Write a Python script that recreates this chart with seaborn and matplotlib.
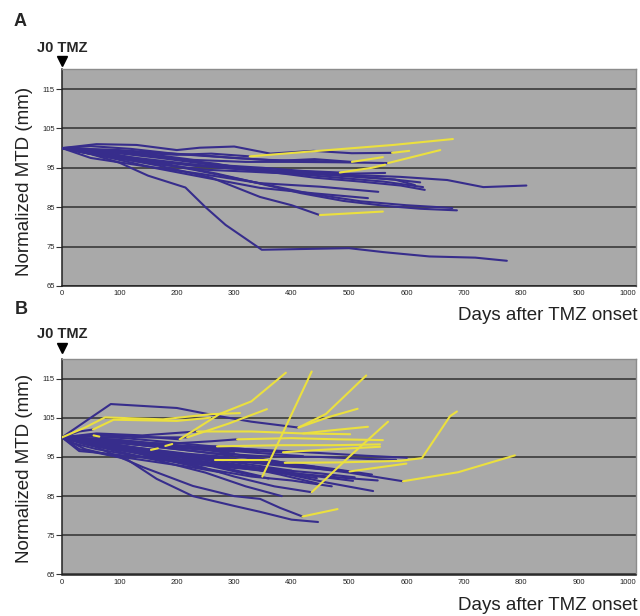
import matplotlib
matplotlib.use("Agg")
import matplotlib.pyplot as plt
import pandas as pd
import seaborn as sns

# ---------------- data (days after TMZ onset, normalized MTD) ----------------
X_TICKS = list(range(0, 1001, 100))
Y_TICKS = [65, 75, 85, 95, 105, 115]

# Panel A : under TMZ (purple)
A_TMZ = [
    ([0, 50, 100, 150, 215, 250, 285, 348, 500, 560, 640, 720, 775], [100, 98.5, 96.3, 93, 90, 85, 80.5, 74.2, 74.6, 73.6, 72.5, 72.2, 71.4]),
    ([0, 60, 130, 200, 240, 300, 363, 438, 505, 575], [100, 101, 100.8, 99.5, 100.1, 100.4, 98.6, 99.3, 98.7, 98.8]),
    ([0, 40, 110, 200, 260, 327], [100, 99.5, 99, 98.3, 98.6, 97.9]),
    ([0, 50, 120, 200, 300, 380, 440, 505], [100, 100.5, 99.8, 98.5, 97.5, 96.8, 97.2, 96.5]),
    ([0, 70, 150, 230, 320, 400, 480, 568], [100, 99.5, 98.5, 97, 96.5, 96.5, 96.4, 96.2]),
    ([0, 80, 170, 260, 350, 420, 484], [100, 99, 97.5, 95.8, 95, 94.2, 93.8]),
    ([0, 60, 140, 230, 330, 430, 500, 563], [100, 99, 97, 95.5, 94.5, 94, 93.5, 93.7]),
    ([0, 50, 120, 210, 300, 400, 500, 580, 615], [100, 98.5, 97.2, 96, 95, 94, 93, 92, 90.6]),
    ([0, 90, 180, 270, 345, 420, 500, 589, 671, 734, 809], [100, 99, 97.5, 96, 94, 93.5, 93.2, 92.7, 91.9, 90.1, 90.5]),
    ([0, 70, 160, 250, 330, 400, 480, 560, 629], [100, 98, 96, 94.5, 94, 93.5, 92.5, 91.5, 90.1]),
    ([0, 100, 190, 280, 360, 440, 520, 590, 632], [100, 98, 96.5, 95, 94, 92.5, 91.5, 90.5, 89.4]),
    ([0, 80, 170, 260, 350, 430, 500, 580, 624], [100, 99.3, 97.8, 96, 94.5, 93.5, 92.8, 92, 91.3]),
    ([0, 50, 140, 240, 345, 450, 551], [100, 97.5, 95.5, 93.5, 91.1, 90.2, 88.9]),
    ([0, 70, 160, 250, 345, 440, 533], [100, 98, 95, 92.5, 89.9, 88.5, 87.3]),
    ([0, 90, 180, 270, 345, 415, 490, 566, 625, 688], [100, 98.5, 96, 93.5, 91, 88.6, 86.6, 85.3, 84.6, 84.2]),
    ([0, 80, 170, 260, 345, 400, 449], [100, 98, 95.5, 92.5, 87.6, 85.5, 83]),
    ([0, 60, 130, 230, 330, 430, 520, 600, 680], [100, 99, 97, 94.5, 91.5, 88.5, 86.5, 85.5, 84.8]),
    ([0, 40, 100, 170, 240, 300, 360, 410, 480], [100, 99.8, 99.5, 98.8, 98.2, 97.5, 97, 96.8, 96.6]),
]
# Panel A : after progression (yellow)
A_POST = [
    ([575, 605], [98.8, 99.3]),
    ([327, 438, 577, 681], [97.9, 99.2, 100.8, 102.3]),
    ([505, 559], [96.5, 97.7]),
    ([568, 659], [96.2, 99.5]),
    ([484, 540, 563], [93.8, 95, 95.8]),
    ([449, 559], [83, 83.9]),
]

# Panel B : under TMZ (purple)
B_TMZ = [
    ([0, 85, 200, 270, 330, 412], [100, 108.5, 107.5, 105.5, 104, 102.5]),
    ([0, 60, 150, 250, 350, 450, 530, 601], [100, 99.5, 98.5, 97.5, 96.8, 96, 95.3, 94.8]),
    ([0, 80, 170, 260, 350, 450, 530, 582], [100, 99, 97.5, 96, 95.2, 95, 94.5, 94.3]),
    ([0, 70, 160, 250, 340, 420, 500, 594], [100, 98.5, 96.5, 95, 93.5, 92.5, 91, 88.8]),
    ([0, 90, 180, 280, 380, 460, 542], [100, 98, 95.5, 93, 91, 88.5, 86.3]),
    ([0, 60, 150, 240, 330, 420, 507], [100, 98, 96, 94.5, 92.5, 90.5, 88.9]),
    ([0, 50, 130, 220, 300, 380, 449], [100, 99, 97, 95, 93, 90.5, 88.1]),
    ([0, 70, 150, 230, 300, 370, 435], [100, 98, 95.5, 93, 90, 87.5, 86]),
    ([0, 40, 113, 165, 228, 300, 345, 400, 446], [100, 97, 94.4, 89.4, 85, 82.5, 81, 79, 78.4]),
    ([0, 60, 141, 228, 300, 345, 380, 419], [100, 97.5, 92.4, 87.6, 85, 84.3, 82, 79.8]),
    ([0, 80, 170, 250, 320, 383], [100, 97, 94, 91, 87.5, 85]),
    ([0, 60, 140, 220, 290, 349], [100, 98.5, 96, 94, 92, 90]),
    ([0, 100, 200, 300, 400, 501], [100, 98, 96, 94, 92.5, 91.3]),
    ([0, 90, 190, 290, 388], [100, 99.5, 98, 96, 93.5]),
    ([0, 80, 160, 240, 320, 400, 444], [100, 98.5, 96.5, 94, 92, 90.5, 89.6]),
    ([0, 50, 110, 180, 250, 310, 360], [100, 98, 96.5, 95, 93, 91, 89.5]),
    ([0, 70, 140, 205], [100, 100.8, 100.2, 99.5]),
    ([0, 60, 140, 218], [100, 100.5, 100, 100]),
    ([0, 50, 120, 200, 260, 305], [100, 99.5, 98.5, 98.5, 99, 99.5]),
    ([0, 50, 120, 190, 267], [100, 98.5, 97, 95.5, 94.3]),
    ([0, 30, 80, 150, 220, 280], [100, 97, 95.5, 94, 92.5, 91]),
    ([0, 60, 140, 210, 270], [100, 99, 98, 97.5, 97.7]),
    ([0, 90, 170, 250, 330, 400, 470], [100, 97.5, 94.5, 92, 90, 89, 87.5]),
    ([0, 60, 140, 235], [100, 101, 100.5, 101.5]),
    ([0, 30, 70, 130, 190], [100, 96.5, 96, 95, 94]),
    ([0, 80, 170, 260, 330, 385], [100, 99, 98, 97.2, 96.5, 96.2]),
    ([0, 30, 54], [100, 101.5, 102]),
    ([0, 40, 100, 160, 230, 300, 370, 440], [100, 99, 97.8, 96.5, 95.5, 94.5, 93.5, 92.5]),
    ([0, 70, 150, 230, 310, 390, 470, 540], [100, 99.2, 97.8, 96.5, 95, 93.5, 92, 90.5]),
    ([0, 60, 120, 190, 260, 330, 400], [100, 98.8, 97, 95.8, 94.5, 93, 91.5]),
    ([0, 40, 90, 150, 210, 260, 320], [100, 99.5, 98.2, 96.8, 95.5, 94.5, 93.5]),
    ([0, 50, 110, 170, 240, 300, 340], [100, 100.2, 99.8, 99, 98, 97.2, 96.8]),
    ([0, 40, 100, 160, 220, 280, 330], [100, 98.2, 96.8, 95.2, 94, 92.8, 92]),
    ([0, 30, 90, 150, 200, 260], [100, 99, 97.5, 95.5, 94.2, 93]),
    ([0, 60, 120, 180, 240, 300, 360, 420], [100, 99.6, 99, 98.2, 97.4, 96.5, 95.8, 95.2]),
    ([0, 50, 100, 160, 220, 290], [100, 98.8, 97.8, 96.8, 95.8, 95]),
    ([0, 70, 130, 200, 260, 320, 380, 450, 510], [100, 98, 96.2, 94.5, 93.4, 92.6, 91.7, 90.8, 89.8]),
    ([0, 20, 60, 120, 180, 240, 300, 360, 420, 480, 550], [100, 98.5, 97, 95.5, 94.2, 93, 92.2, 91.5, 90.6, 89.8, 89]),
    ([0, 45, 110, 170, 230, 300], [100, 99.3, 98.6, 97.8, 97, 96.3]),
]
# Panel B : after progression (yellow)
B_POST = [
    ([205, 275, 330, 390], [99.5, 106, 109.2, 116.5]),
    ([349, 435], [90, 116.8]),
    ([412, 460, 530], [102.5, 106, 115.8]),
    ([412, 465, 515], [102.5, 105.2, 107.3]),
    ([435, 500, 568], [86, 95, 104]),
    ([388, 480, 589, 627, 676, 688], [93.5, 93.6, 94, 94.7, 105.4, 106.6]),
    ([501, 560, 600], [91.3, 92.5, 93.3]),
    ([594, 690, 789], [88.8, 91.1, 95.4]),
    ([419, 480], [79.8, 81.7]),
    ([218, 290, 357], [100, 103.5, 107.2]),
    ([0, 40, 75, 176, 258, 310], [100, 102.5, 105.1, 104.6, 105.9, 106.2]),
    ([54, 90, 200, 258], [102, 104.5, 104.2, 105]),
    ([235, 330, 420, 502], [101.5, 101.5, 101, 100.8]),
    ([305, 400, 480, 559], [99.5, 99.8, 99.5, 99.3]),
    ([270, 380, 470, 554], [97.7, 98, 98, 98.2]),
    ([385, 450, 554], [96.2, 96.8, 97.6]),
    ([267, 359], [94.3, 94.3]),
    ([420, 470, 533], [101, 101.8, 102.7]),
    ([55, 65], [100.5, 100.2]),
    ([155, 167], [96.8, 97.2]),
    ([180, 192], [97.8, 98.3]),
]

PURPLE = "#372d8c"
YELLOW = "#ebe03e"
BG = "#a9a9a9"


def to_frame(tmz, post):
    rows = []
    uid = 0
    for phase, lines in (("TMZ", tmz), ("post", post)):
        for xs, ys in lines:
            for i, (x, y) in enumerate(zip(xs, ys)):
                rows.append({"uid": uid, "phase": phase, "day": x, "mtd": y, "k": i})
            uid += 1
    return pd.DataFrame(rows)


sns.set_theme(style="white")
plt.rcParams["font.family"] = ["Liberation Sans", "DejaVu Sans"]

fig = plt.figure(figsize=(6.4, 6.16), dpi=100)
W, H = 640.0, 616.0
axA = fig.add_axes([62 / W, 1 - 286 / H, 574 / W, (286 - 69.3) / H])
axB = fig.add_axes([62 / W, 1 - 574.5 / H, 574 / W, (574.5 - 359) / H])

for ax, tmz, post, tri_y in ((axA, A_TMZ, A_POST, 122.0), (axB, B_TMZ, B_POST, 122.8)):
    ax.set_facecolor(BG)
    df = to_frame(tmz, post)
    sns.lineplot(data=df, x="day", y="mtd", hue="phase", units="uid",
                 estimator=None, sort=False, hue_order=["TMZ", "post"],
                 palette={"TMZ": PURPLE, "post": YELLOW}, legend=False,
                 lw=1.5, ax=ax, zorder=3)
    ax.set_xlim(0, 1000)
    ax.set_ylim(65, 120)
    ax.set_xticks(X_TICKS)
    ax.set_yticks(Y_TICKS)
    ax.set_xticklabels([str(v) for v in X_TICKS])
    ax.set_yticklabels([str(v) for v in Y_TICKS])
    ax.get_xticklabels()[-1].set_horizontalalignment("right")
    ax.yaxis.grid(True, color="#3a3a3a", lw=1.2, zorder=1)
    ax.xaxis.grid(False)
    ax.set_axisbelow(True)
    ax.set_xlabel("")
    ax.set_ylabel("")
    ax.tick_params(axis="y", length=4, width=0.8, color="#333333", pad=1,
                   labelsize=5.5, labelcolor="#222222", left=True)
    ax.tick_params(axis="x", length=0, pad=3, labelsize=5.5, labelcolor="#222222")
    for s in ("left", "bottom"):
        ax.spines[s].set_color("#222222")
        ax.spines[s].set_linewidth(1.1)
    for s in ("top", "right"):
        ax.spines[s].set_color("#8c8c8c")
        ax.spines[s].set_linewidth(1.0)
    ax.plot([0], [tri_y], marker="v", color="black", markersize=7, clip_on=False)

# Labels
fig.text(14 / W, 1 - 21.5 / H, "A", fontsize=13, fontweight="bold", ha="left", va="center")
fig.text(15 / W, 1 - 310 / H, "B", fontsize=13, fontweight="bold", ha="left", va="center")
for yc in (47.5, 334):
    fig.text(62.5 / W, 1 - yc / H, "J0 TMZ", fontsize=10.5, fontweight="bold",
             ha="center", va="center")
for yc in (181, 468):
    fig.text(24.5 / W, 1 - yc / H, "Normalized MTD (mm)", fontsize=13.5,
             rotation=90, ha="center", va="center", color="#222222")
for yc in (315, 605):
    fig.text(638 / W, 1 - yc / H, "Days after TMZ onset", fontsize=13.5,
             ha="right", va="center", color="#222222")

fig.savefig("out.png", dpi=100)
